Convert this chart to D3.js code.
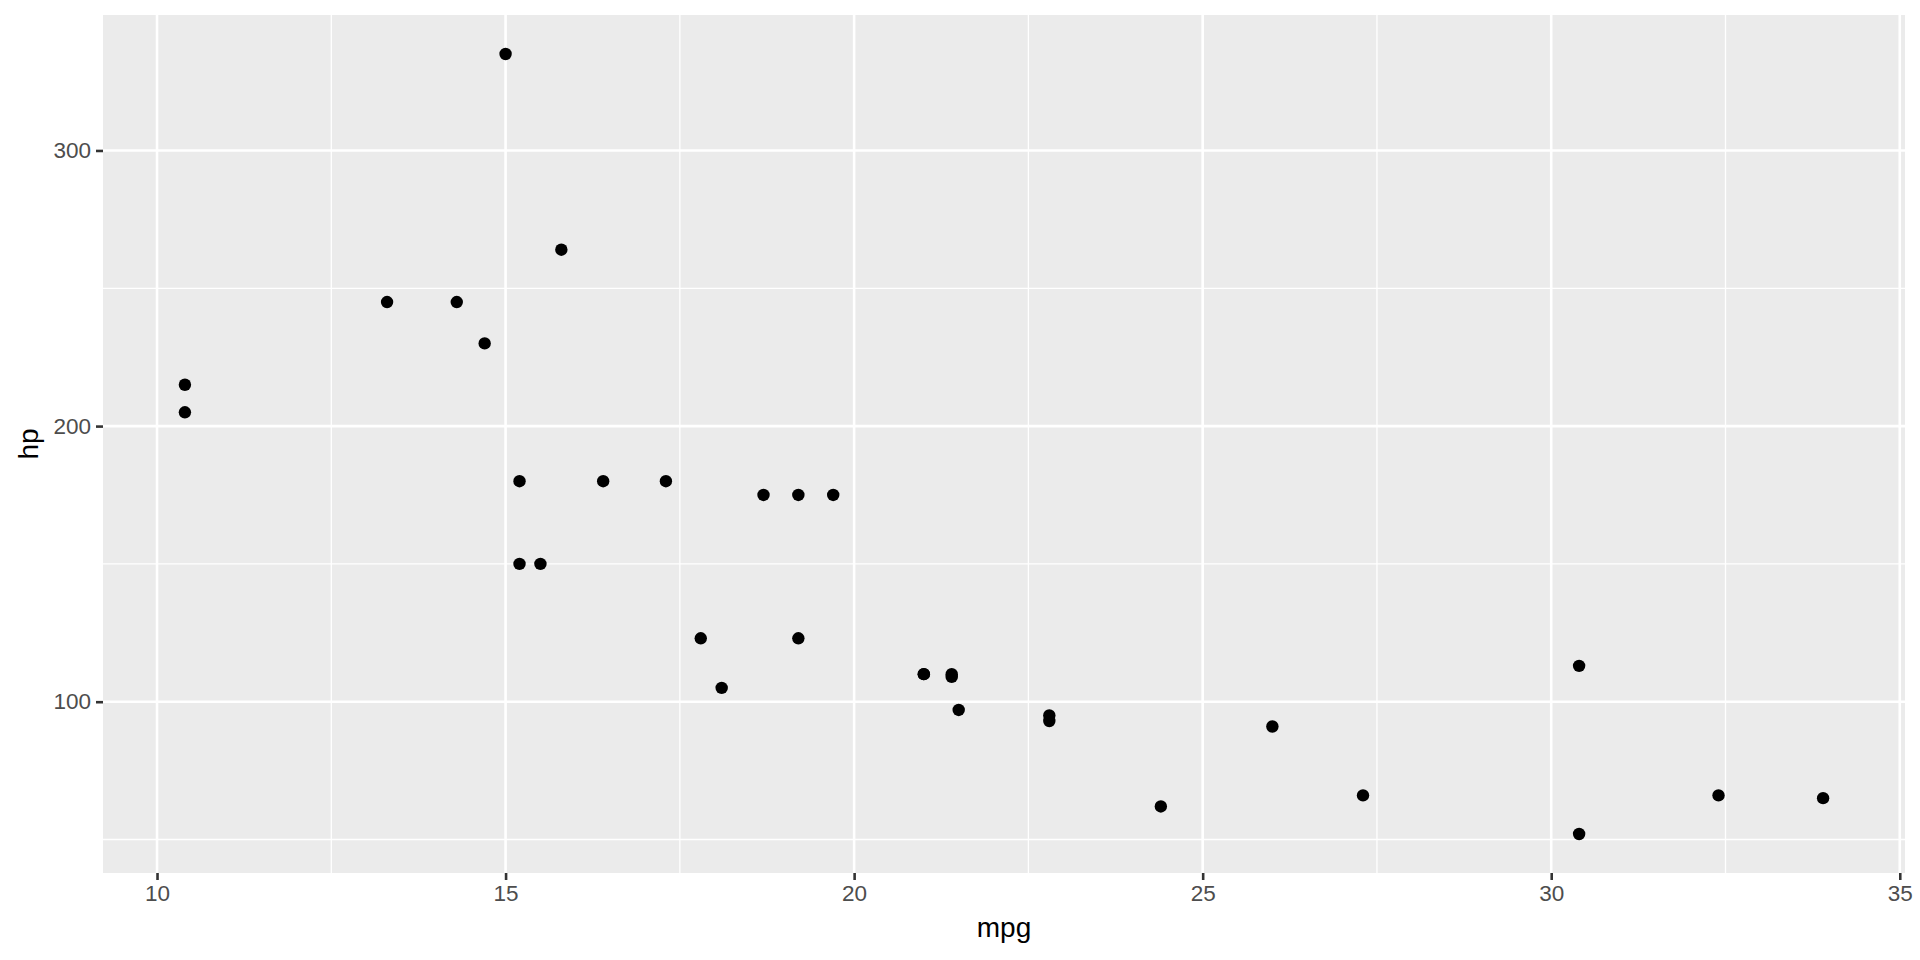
<!DOCTYPE html>
<html>
<head>
<meta charset="utf-8">
<script src="https://cdn.jsdelivr.net/npm/d3@7"></script>
<style>
  html, body { margin: 0; padding: 0; background: #fff; }
  svg { display: block; font-family: "Liberation Sans", Arial, sans-serif; }
</style>
</head>
<body>
<svg id="chart" width="1920" height="960"></svg>
<script>
// mtcars: mpg vs hp
const mpg = [21.0, 21.0, 22.8, 21.4, 18.7, 18.1, 14.3, 24.4, 22.8, 19.2, 17.8, 16.4, 17.3, 15.2, 10.4, 10.4,
             14.7, 32.4, 30.4, 33.9, 21.5, 15.5, 15.2, 13.3, 19.2, 27.3, 26.0, 30.4, 15.8, 19.7, 15.0, 21.4];
const hp  = [110, 110, 93, 110, 175, 105, 245, 62, 95, 123, 123, 180, 180, 180, 205, 215,
             230, 66, 52, 65, 97, 150, 150, 245, 175, 66, 91, 113, 264, 175, 335, 109];
const xTicks = [10, 15, 20, 25, 30, 35];
const xMinor = [12.5, 17.5, 22.5, 27.5, 32.5];
const yTicks = [100, 200, 300];
const yMinor = [50, 150, 250];

const svg = d3.select("#chart");
const panel = { left: 103, right: 1905, top: 15, bottom: 873 };

const xExt = d3.extent(mpg), yExt = d3.extent(hp);
const xPad = (xExt[1] - xExt[0]) * 0.05, yPad = (yExt[1] - yExt[0]) * 0.05;
const x = d3.scaleLinear().domain([xExt[0] - xPad, xExt[1] + xPad]).range([panel.left, panel.right]);
const y = d3.scaleLinear().domain([yExt[0] - yPad, yExt[1] + yPad]).range([panel.bottom, panel.top]);

svg.append("rect")
  .attr("x", panel.left).attr("y", panel.top)
  .attr("width", panel.right - panel.left).attr("height", panel.bottom - panel.top)
  .attr("fill", "#EBEBEB");

const grid = svg.append("g");
grid.selectAll(".xminor").data(xMinor).enter().append("line")
  .attr("x1", d => x(d)).attr("x2", d => x(d))
  .attr("y1", panel.top).attr("y2", panel.bottom)
  .attr("stroke", "#fff").attr("stroke-width", 1.3);
grid.selectAll(".yminor").data(yMinor).enter().append("line")
  .attr("y1", d => y(d)).attr("y2", d => y(d))
  .attr("x1", panel.left).attr("x2", panel.right)
  .attr("stroke", "#fff").attr("stroke-width", 1.3);
grid.selectAll(".xmajor").data(xTicks).enter().append("line")
  .attr("x1", d => x(d)).attr("x2", d => x(d))
  .attr("y1", panel.top).attr("y2", panel.bottom)
  .attr("stroke", "#fff").attr("stroke-width", 2.6);
grid.selectAll(".ymajor").data(yTicks).enter().append("line")
  .attr("y1", d => y(d)).attr("y2", d => y(d))
  .attr("x1", panel.left).attr("x2", panel.right)
  .attr("stroke", "#fff").attr("stroke-width", 2.6);

// axes
const xAxis = d3.axisBottom(x).tickValues(xTicks).tickSize(7).tickPadding(5).tickFormat(d3.format("d"));
const gx = svg.append("g").attr("transform", `translate(0,${panel.bottom})`).call(xAxis);
gx.select(".domain").remove();
gx.selectAll(".tick line").attr("stroke", "#333333").attr("stroke-width", 2.6);
gx.selectAll(".tick text").attr("fill", "#4D4D4D").attr("font-size", 22.5)
  .attr("font-family", "Liberation Sans, Arial, sans-serif");

const yAxis = d3.axisLeft(y).tickValues(yTicks).tickSize(7).tickPadding(5).tickFormat(d3.format("d"));
const gy = svg.append("g").attr("transform", `translate(${panel.left},0)`).call(yAxis);
gy.select(".domain").remove();
gy.selectAll(".tick line").attr("stroke", "#333333").attr("stroke-width", 2.6);
gy.selectAll(".tick text").attr("fill", "#4D4D4D").attr("font-size", 22.5)
  .attr("font-family", "Liberation Sans, Arial, sans-serif");

// points
svg.append("g").selectAll("circle").data(mpg.map((m, i) => [m, hp[i]])).enter().append("circle")
  .attr("cx", d => x(d[0])).attr("cy", d => y(d[1])).attr("r", 6.2).attr("fill", "#000");

// titles
svg.append("text").attr("x", (panel.left + panel.right) / 2).attr("y", 937)
  .attr("text-anchor", "middle").attr("font-size", 28).attr("fill", "#000").text("mpg");
svg.append("text")
  .attr("transform", `translate(38,${(panel.top + panel.bottom) / 2}) rotate(-90)`)
  .attr("text-anchor", "middle").attr("font-size", 28).attr("fill", "#000").text("hp");
</script>
</body>
</html>
